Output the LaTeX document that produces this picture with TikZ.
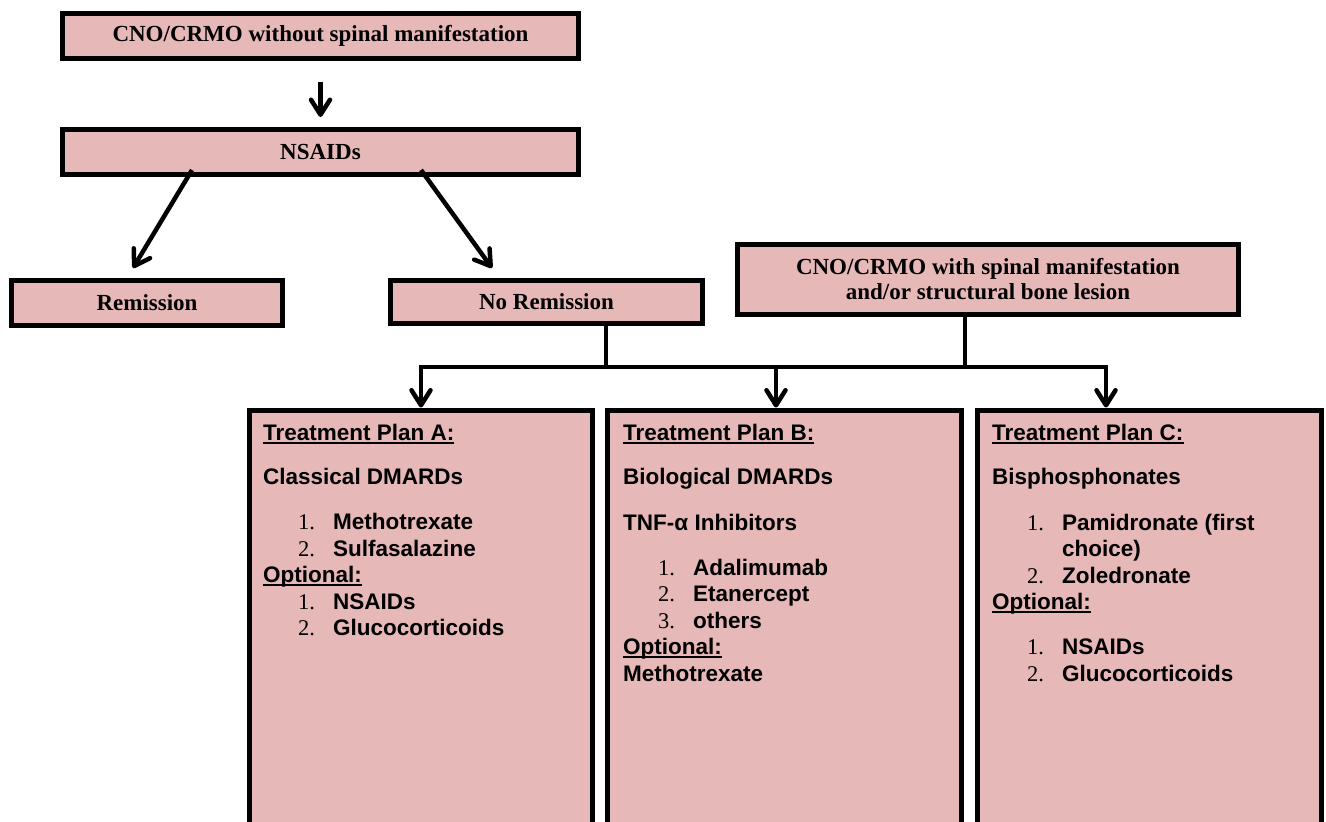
\documentclass[tikz,border=0pt]{standalone}
\usepackage{fontspec}
\setmainfont{Liberation Serif}
\setsansfont{Liberation Sans}
\usetikzlibrary{arrows.meta}
\definecolor{boxpink}{HTML}{E6B8B7}

\tikzset{
  box/.style={draw=black, line width=5pt, fill=boxpink, inner sep=0pt, align=center, font=\bfseries\fontsize{23}{25}\selectfont},
  plan/.style={draw=black, line width=5pt, fill=boxpink, anchor=north west, inner sep=0pt, minimum height=470pt},
  plantext/.style={anchor=north west, inner sep=0pt, align=left, font=\sffamily\bfseries\fontsize{22.5}{26.5}\selectfont},
  line/.style={line width=4.5pt},
  arr/.style={line width=4.5pt, -{Straight Barb[round,length=15pt,width=19pt]}}
}
\newcommand{\itm}[2]{\hspace*{35pt}\makebox[35pt][l]{\rmfamily\mdseries #1}#2}
\newcommand{\planul}[1]{\setbox0\hbox{#1}\rlap{\rule[-3.5pt]{\wd0}{2pt}}\box0}

\begin{document}
\begin{tikzpicture}[x=1pt,y=-1pt]
    \useasboundingbox (0,0) rectangle (1326,822);

    % draw upper boxes
    \node[box, minimum width=516pt, minimum height=45pt] (cnoA) at (320.5,36) {CNO/CRMO without spinal manifestation};
    \node[box, minimum width=516pt, minimum height=45pt] (nsaids) at (320.5,152) {NSAIDs};
    \node[box, minimum width=271pt, minimum height=45pt] (remis) at (147,303) {Remission};
    \node[box, minimum width=312pt, minimum height=43pt] (noremis) at (546.5,302) {No Remission};
    \node[box, minimum width=501pt, minimum height=70pt] (spinal) at (988,279.5) {CNO/CRMO with spinal manifestation\\and/or structural bone lesion};

    % draw plan boxes
    \node[plan, minimum width=343pt] (planA) at (247,407.5) {};
    \node[plan, minimum width=354pt] (planB) at (605,407.5) {};
    \node[plan, minimum width=344pt] (planC) at (975,407.5) {};

    % draw plan texts
    \node[plantext] (txtA) at (263,424) {\planul{Treatment Plan A:}\\[17.5pt]
        Classical DMARDs\\[18.5pt]
        \itm{1.}{Methotrexate}\\
        \itm{2.}{Sulfasalazine}\\
        \planul{Optional:}\\
        \itm{1.}{NSAIDs}\\
        \itm{2.}{Glucocorticoids}};
    \node[plantext] (txtB) at (623,424) {\planul{Treatment Plan B:}\\[17.5pt]
        Biological DMARDs\\[19pt]
        TNF-α Inhibitors\\[18.5pt]
        \itm{1.}{Adalimumab}\\
        \itm{2.}{Etanercept}\\
        \itm{3.}{others}\\
        \planul{Optional:}\\
        Methotrexate};
    \node[plantext] (txtC) at (992,424) {\planul{Treatment Plan C:}\\[17.5pt]
        Bisphosphonates\\[19pt]
        \itm{1.}{Pamidronate (first}\\
        \hspace*{70pt}choice)\\
        \itm{2.}{Zoledronate}\\
        \planul{Optional:}\\[18.5pt]
        \itm{1.}{NSAIDs}\\
        \itm{2.}{Glucocorticoids}};

    % draw arrows of the upper part
    \draw[arr, shorten <=21pt, shorten >=10pt] (cnoA.south) -- (nsaids.north);
    \draw[arr] ([xshift=-128.5pt,yshift=7pt]nsaids.south) -- ([xshift=-14pt,yshift=10pt]remis.north);
    \draw[arr] ([xshift=100.5pt,yshift=7pt]nsaids.south) -- ([xshift=-54.5pt,yshift=10pt]noremis.north);

    % draw junction lines
    \coordinate (jNo) at (606,367);
    \coordinate (jSp) at (965,367);
    \draw[line] ([xshift=59.5pt]noremis.south) -- (jNo);
    \draw[line] ([xshift=-23pt]spinal.south) -- (jSp);
    \draw[line, line cap=rect] (421,367) -- (1106,367);

    % draw arrows to the plans
    \foreach \p/\x in {planA/421, planB/776, planC/1106}
    \draw[arr] (\x,367) -- (\x,367 |- \p.north);
\end{tikzpicture}
\end{document}
